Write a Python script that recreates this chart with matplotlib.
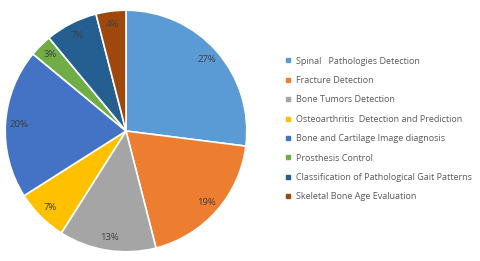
import matplotlib.pyplot as plt
from matplotlib.lines import Line2D

categories = [
    "Spinal   Pathologies Detection",
    "Fracture Detection",
    "Bone Tumors Detection",
    "Osteoarthritis  Detection and Prediction",
    "Bone and Cartilage Image diagnosis",
    "Prosthesis Control",
    "Classification of Pathological Gait Patterns",
    "Skeletal Bone Age Evaluation",
]
shares = [27, 19, 13, 7, 20, 3, 7, 4]
colors = ["#5b9bd5", "#ed7d31", "#a5a5a5", "#ffc000", "#4472c4", "#70ad47", "#255e91", "#9e480e"]

plt.rcParams["font.family"] = ["Open Sans", "DejaVu Sans"]

fig = plt.figure(figsize=(4.8, 2.61), dpi=100)
ax = fig.add_axes([4 / 480, 8 / 261, 244 / 480, 244 / 261])
wedges, texts = ax.pie(
    shares,
    colors=colors,
    startangle=90,
    counterclock=False,
    labels=[f"{v}%" for v in shares],
    labeldistance=0.89,
    wedgeprops=dict(edgecolor="white", linewidth=1.2),
    textprops=dict(fontsize=6.8, color="#404040", ha="center", va="center"),
)
ax.set_xlim(-1.01, 1.01)
ax.set_ylim(-1.01, 1.01)
ax.set_aspect("equal")

handles = [Line2D([], [], marker="s", linestyle="", markersize=3, color=c) for c in colors]
fig.legend(
    handles,
    categories,
    loc="upper left",
    bbox_to_anchor=(282 / 480, 1 - 53 / 261),
    frameon=False,
    fontsize=6.5,
    labelcolor="#595959",
    handlelength=0.6,
    handletextpad=0.5,
    labelspacing=1.15,
    borderaxespad=0,
)

fig.savefig("out.png", dpi=100)
